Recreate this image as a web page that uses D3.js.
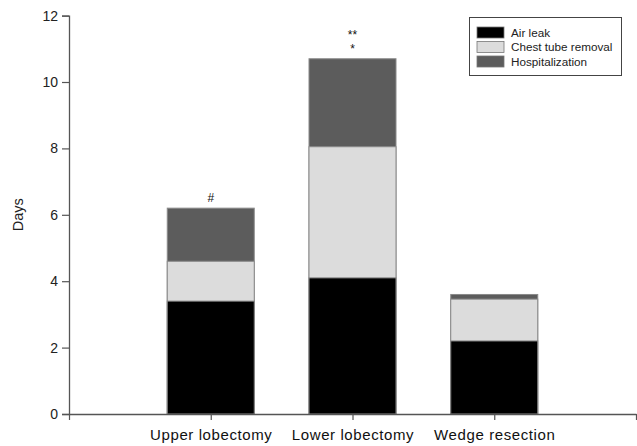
<!DOCTYPE html>
<html><head><meta charset="utf-8">
<script src="https://cdn.jsdelivr.net/npm/d3@7"></script>
<style>body{margin:0;background:#fff}svg{display:block}text{font-family:"Liberation Sans",Arial,sans-serif}</style>
</head><body>
<svg id="c" width="637" height="446"></svg>
<script>
const categories = ["Upper lobectomy", "Lower lobectomy", "Wedge resection"];
const airLeak = [3.4, 4.1, 2.2];
const chestTubeRemoval = [4.6, 8.05, 3.46];
const hospitalization = [6.2, 10.7, 3.6];
const seriesNames = ["Air leak", "Chest tube removal", "Hospitalization"];
const seriesColors = ["#000000", "#dcdcdc", "#5c5c5c"];
const yTicks = [0, 2, 4, 6, 8, 10, 12];
const annotations = ["#", "**\n*", ""];

const svg = d3.select("#c");
const m = {left: 69, right: 636, top: 15.6, bottom: 414};
const y = d3.scaleLinear().domain([0, 12]).range([m.bottom, m.top]);
const xPos = d3.scalePoint().domain(["", ...categories, " "]).range([m.left, m.right]);
const bw = 87;

// bars: draw longest first (overlapping from 0)
const series = [hospitalization, chestTubeRemoval, airLeak];
const colorsDraw = [seriesColors[2], seriesColors[1], seriesColors[0]];
series.forEach((vals, si) => {
  svg.append("g").selectAll("rect").data(vals).join("rect")
    .attr("x", (d, i) => xPos(categories[i]) - bw / 2)
    .attr("y", d => y(d))
    .attr("width", bw)
    .attr("height", d => y(0) - y(d))
    .attr("fill", colorsDraw[si])
    .attr("stroke", "#8a8a8a")
    .attr("stroke-width", 1);
});

// y axis
const yAxis = d3.axisLeft(y).tickValues(yTicks).tickSize(7).tickPadding(4);
const gy = svg.append("g").attr("transform", `translate(${m.left},0)`).call(yAxis);
gy.select(".domain").attr("stroke", "#555").attr("stroke-width", 1.3);
gy.selectAll(".tick line").attr("stroke", "#555").attr("stroke-width", 1.2);
gy.selectAll(".tick text").attr("font-size", 14).attr("fill", "#222").style("font-family", "Liberation Sans, Arial, sans-serif");

// x axis
const xAxis = d3.axisBottom(xPos).tickSize(6).tickSizeOuter(0).tickPadding(9);
const gx = svg.append("g").attr("transform", `translate(0,${m.bottom})`).call(xAxis);
gx.select(".domain").attr("stroke", "#555").attr("stroke-width", 1.3);
gx.selectAll(".tick line").attr("stroke", "#555").attr("stroke-width", 1.2);
gx.selectAll(".tick text").attr("font-size", 15).attr("fill", "#111")
  .style("letter-spacing", "0.6px")
  .style("font-family", "Liberation Sans, Arial, sans-serif");

// y label
svg.append("text").attr("transform", `translate(23,${(m.top + m.bottom) / 2}) rotate(-90)`)
  .attr("text-anchor", "middle").attr("font-size", 14.5).attr("fill", "#222").text("Days");

// annotations
categories.forEach((c, i) => {
  const lines = annotations[i].split("\n").filter(s => s.length);
  const top = y(hospitalization[i]);
  lines.forEach((s, j) => {
    svg.append("text").attr("x", xPos(c)).attr("y", top - 6 - (lines.length - 1 - j) * 14)
      .attr("text-anchor", "middle").attr("font-size", 12).attr("fill", "#111").text(s);
  });
});

// legend
const lg = svg.append("g");
lg.append("rect").attr("x", 469.5).attr("y", 17.5).attr("width", 152).attr("height", 58)
  .attr("fill", "#fff").attr("stroke", "#444").attr("stroke-width", 1);
seriesNames.forEach((n, i) => {
  lg.append("rect").attr("x", 477).attr("y", 27 + i * 14.5).attr("width", 27).attr("height", 11)
    .attr("fill", seriesColors[i]).attr("stroke", "#777").attr("stroke-width", 0.8);
  lg.append("text").attr("x", 511).attr("y", 36.5 + i * 14.5).attr("font-size", 11.7).attr("fill", "#222").text(n);
});
</script>
</body></html>
